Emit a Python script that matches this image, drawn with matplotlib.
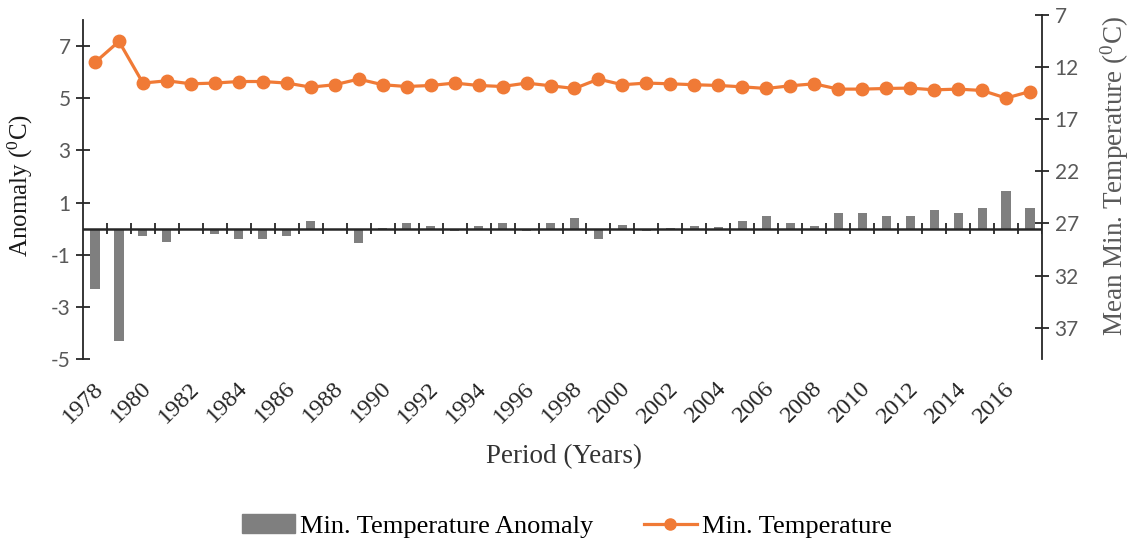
import numpy as np
import matplotlib
matplotlib.use('Agg')
import matplotlib.pyplot as plt
import matplotlib.transforms as mtransforms
from matplotlib.patches import Patch
from matplotlib.lines import Line2D

years = list(range(1978, 2018))

# anomaly bars (left axis)
anomaly = [-2.3, -4.3, -0.29, -0.51, -0.06, -0.19, -0.41, -0.41, -0.29, 0.28,
           -0.06, -0.57, 0.03, 0.23, 0.10, -0.10, 0.10, 0.23, -0.09, 0.23,
           0.42, -0.41, 0.14, -0.10, 0.02, 0.11, 0.08, 0.29, 0.50, 0.20,
           0.09, 0.60, 0.60, 0.50, 0.50, 0.71, 0.60, 0.79, 1.45, 0.80]

# mean min temperature (right axis, inverted)
min_temp = [11.55, 9.53, 13.53, 13.31, 13.60, 13.53, 13.38, 13.38, 13.53, 13.92,
            13.69, 13.15, 13.69, 13.86, 13.76, 13.53, 13.76, 13.86, 13.53, 13.79,
            14.05, 13.15, 13.69, 13.53, 13.60, 13.69, 13.76, 13.89, 14.05, 13.79,
            13.60, 14.11, 14.11, 14.05, 14.01, 14.18, 14.11, 14.24, 14.97, 14.34]

left_ticks = [-5, -3, -1, 1, 3, 5, 7]
right_ticks = [7, 12, 17, 22, 27, 32, 37]

BAR = '#7f7f7f'
ORANGE = '#f07a36'
TICKCOL = '#595959'
AXCOL = '#262626'
SANS = 'Lato'

plt.rcParams['font.family'] = ['Liberation Serif', 'DejaVu Serif']

fig = plt.figure(figsize=(11.3, 5.42), dpi=100)
ax = fig.add_axes([83 / 1130, 1 - 359 / 542, (1042 - 83) / 1130, (359 - 15) / 542])
x = np.arange(len(years))

ax.bar(x, anomaly, width=0.38, color=BAR, zorder=2)
ax.set_xlim(-0.5, len(years) - 0.5)
ax.set_ylim(-5, 8.19)
ax.set_yticks(left_ticks)
ax.set_yticklabels([str(t) for t in left_ticks], fontfamily=SANS, fontsize=15, color=TICKCOL)
ax.tick_params(axis='y', direction='inout', length=10, width=1.3, pad=4, color=AXCOL)

for s in ['top', 'right', 'bottom']:
    ax.spines[s].set_visible(False)
ax.spines['left'].set_bounds(-5, 8)
ax.spines['left'].set_linewidth(1.3)
ax.spines['left'].set_color(AXCOL)

# category axis line at zero, tick marks between categories
ax.axhline(0, color=AXCOL, lw=1.8, zorder=3)
ax.vlines(np.arange(0.5, len(years), 1), -0.21, 0.21, color=AXCOL, lw=1.3, zorder=3)

# year labels at bottom of plot area
ax.set_xticks(x[::2])
ax.set_xticklabels([str(y) for y in years[::2]], rotation=45, ha='right', va='center',
                   rotation_mode='anchor', fontsize=17.5, color=AXCOL)
ax.tick_params(axis='x', length=0, pad=19)
shift = mtransforms.ScaledTranslation(5 / 100, 0, fig.dpi_scale_trans)
for lbl in ax.get_xticklabels():
    lbl.set_transform(lbl.get_transform() + shift)

ax2 = ax.twinx()
ax2.plot(x, min_temp, color=ORANGE, lw=2.3, marker='o', markersize=9, zorder=3)
ax2.set_ylim(40, 7)
ax2.set_yticks(right_ticks)
ax2.set_yticklabels([str(t) for t in right_ticks], fontfamily=SANS, fontsize=15, color=TICKCOL)
ax2.tick_params(axis='y', direction='inout', length=10, width=1.3, pad=4, color=AXCOL)
for s in ['top', 'left', 'bottom']:
    ax2.spines[s].set_visible(False)
ax2.spines['right'].set_linewidth(1.3)
ax2.spines['right'].set_color(AXCOL)

fig.text(20 / 1130, 1 - 185 / 542, r'Anomaly ($\mathregular{^0}$C)', rotation=90,
         ha='center', va='center', fontsize=18, color='#1a1a1a')
fig.text(1115 / 1130, 1 - 176 / 542, r'Mean Min. Temperature ($\mathregular{^0}$C)', rotation=90,
         ha='center', va='center', fontsize=19.5, color=TICKCOL)
fig.text(564 / 1130, 1 - 457 / 542, 'Period (Years)', ha='center', va='center',
         fontsize=19.5, color='#333333')

handles = [Patch(color=BAR),
           Line2D([], [], color=ORANGE, lw=2.3, marker='o', markersize=8)]
fig.legend(handles, ['Min. Temperature Anomaly', 'Min. Temperature'],
           loc='center', bbox_to_anchor=(567 / 1130, 1 - 526 / 542), ncol=2,
           frameon=False, handlelength=2.0, handletextpad=0.2, columnspacing=1.9,
           prop={'size': 19})

fig.savefig('out.png', dpi=100)
